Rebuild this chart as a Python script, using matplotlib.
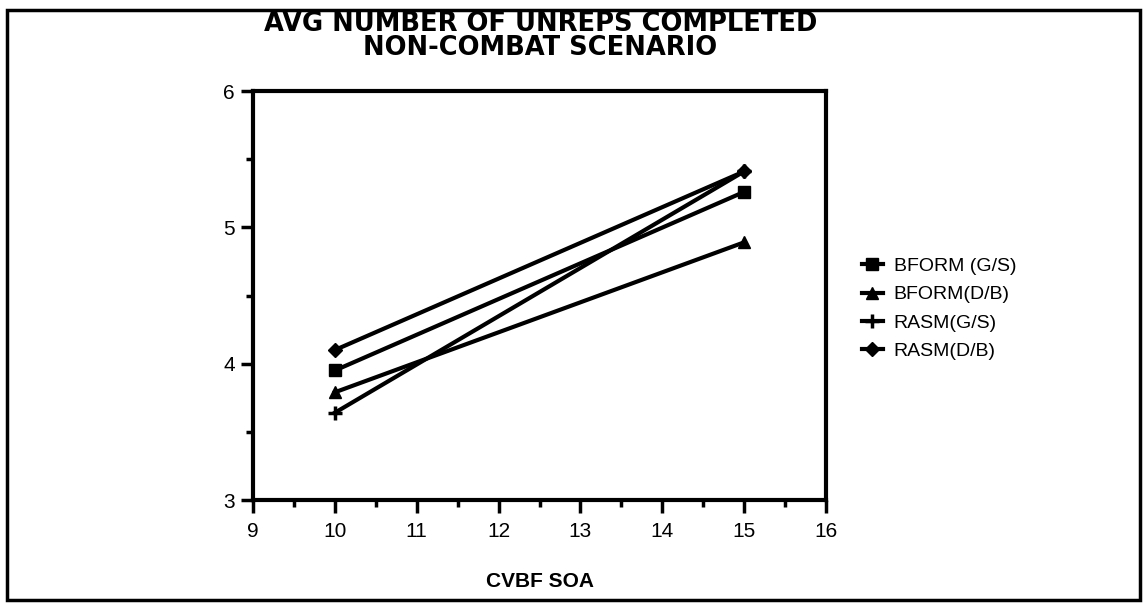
import matplotlib.pyplot as plt
from matplotlib.lines import Line2D
from matplotlib.patches import Rectangle

# data
soa = [10, 15]
bform_gs = [3.95, 5.26]
bform_db = [3.79, 4.89]
rasm_gs = [3.64, 5.41]
rasm_db = [4.10, 5.41]

series = [
    ('BFORM (G/S)', bform_gs, 's', 8),
    ('BFORM(D/B)', bform_db, '^', 9),
    ('RASM(G/S)', rasm_gs, '+', 10),
    ('RASM(D/B)', rasm_db, 'D', 7),
]
title = 'AVG NUMBER OF UNREPS COMPLETED\nNON-COMBAT SCENARIO'

plt.rcParams['font.family'] = ['Liberation Sans', 'DejaVu Sans']

fig = plt.figure(figsize=(11.45, 6.03), dpi=100)
ax = fig.add_axes([253/1145, 1 - 500/603, (826-253)/1145, (500-91)/603])

for label, vals, mk, ms in series:
    ax.plot(soa, vals, color='black', lw=3, marker=mk, markersize=ms,
            markeredgewidth=2.5 if mk == '+' else 1, label=label)

ax.set_xlim(9, 16)
ax.set_ylim(3, 6)
ax.set_xticks(range(9, 17))
ax.set_yticks([3, 4, 5, 6])
ax.set_xticks([9.5 + i for i in range(7)], minor=True)
ax.set_yticks([3.5, 4.5, 5.5], minor=True)
ax.tick_params(which='major', length=9, width=2.5, labelsize=15)
ax.tick_params(axis='x', which='major', pad=7)
ax.tick_params(axis='y', which='major', pad=4)
ax.tick_params(which='minor', length=5, width=2.5)
for sp in ax.spines.values():
    sp.set_linewidth(3)

ax.set_xlabel('CVBF SOA', fontsize=15, fontweight='bold', labelpad=22)

# last line's baseline sits at y=55 px
fig.text(0.472, 1 - 55/603, title, ha='center', va='baseline',
         fontsize=18.5, fontweight='bold', linespacing=0.92,
         family='DejaVu Sans', multialignment='center')

handles = [Line2D([0], [0], color='black', lw=3, marker=mk, markersize=ms,
                  markeredgewidth=2.5 if mk == '+' else 1)
           for _, _, mk, ms in series]
fig.legend(handles, [s[0] for s in series], loc='upper left',
           bbox_to_anchor=(844/1145, 1 - 240/603), frameon=False,
           fontsize=14, handlelength=1.1, labelspacing=0.55, handletextpad=0.55)

fig.add_artist(Rectangle((7/1145, 3/603), 1133/1145, 1 - 13/603,
                         transform=fig.transFigure, fill=False,
                         edgecolor='black', lw=2.5))

fig.savefig('out.png', dpi=100)
